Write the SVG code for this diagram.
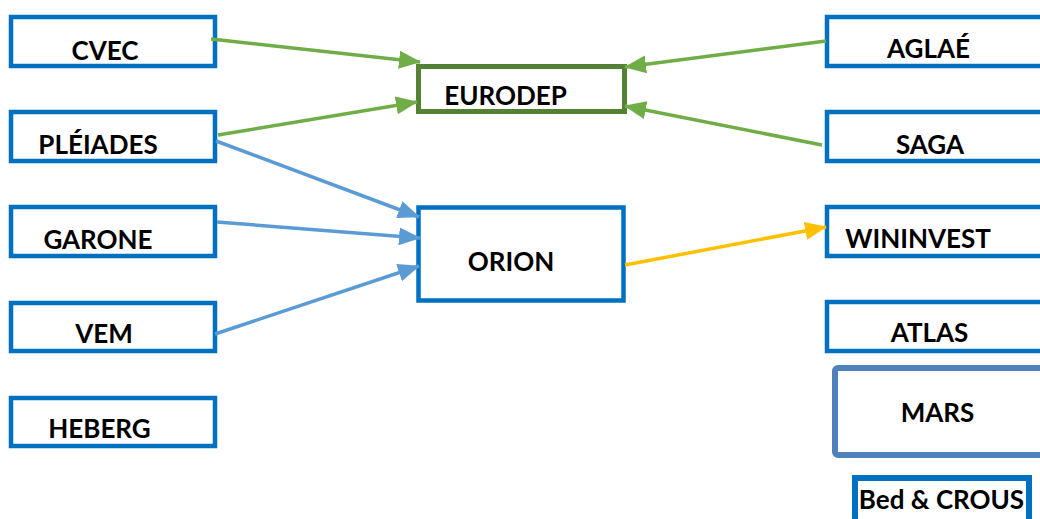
<svg xmlns="http://www.w3.org/2000/svg" width="1040" height="519" viewBox="0 0 1040 519">
  <style>
    .box { fill: #ffffff; stroke: #0070C0; stroke-width: 4.5; }
    .lbl { font-family: Lato, "Liberation Sans", Arial, sans-serif; font-weight: bold; font-size: 26px; fill: #000000; text-anchor: middle; }
    .g { stroke: #70AD47; stroke-width: 3.5; fill: none; marker-end: url(#ag); }
    .b { stroke: #5B9BD5; stroke-width: 3.5; fill: none; marker-end: url(#ab); }
    .y { stroke: #FFC000; stroke-width: 3.5; fill: none; marker-end: url(#ay); }
  </style>
  <defs>
    <marker id="ag" markerUnits="userSpaceOnUse" markerWidth="22" markerHeight="18" refX="21" refY="9" orient="auto">
      <path d="M0,0 L22,9 L0,18 z" fill="#70AD47"/>
    </marker>
    <marker id="ab" markerUnits="userSpaceOnUse" markerWidth="22" markerHeight="18" refX="21" refY="9" orient="auto">
      <path d="M0,0 L22,9 L0,18 z" fill="#5B9BD5"/>
    </marker>
    <marker id="ay" markerUnits="userSpaceOnUse" markerWidth="22" markerHeight="18" refX="21" refY="9" orient="auto">
      <path d="M0,0 L22,9 L0,18 z" fill="#FFC000"/>
    </marker>
  </defs>
  <rect width="1040" height="519" fill="#ffffff"/>

  <g id="cvec"><rect class="box" x="11" y="17" width="204" height="49"/><text class="lbl" x="105" y="60">CVEC</text></g>
  <g id="pleiades"><rect class="box" x="11" y="112" width="204" height="49"/><text class="lbl" x="98" y="154">PLÉIADES</text></g>
  <g id="garone"><rect class="box" x="11" y="207" width="204" height="49"/><text class="lbl" x="98" y="249">GARONE</text></g>
  <g id="vem"><rect class="box" x="11" y="303" width="204" height="48"/><text class="lbl" x="104" y="343">VEM</text></g>
  <g id="heberg"><rect class="box" x="11" y="398" width="204" height="48"/><text class="lbl" x="99.5" y="438">HEBERG</text></g>

  <g id="eurodep"><rect x="418.5" y="66.5" width="206" height="45" fill="#ffffff" stroke="#548235" stroke-width="5"/><text class="lbl" x="505.5" y="105">EURODEP</text></g>
  <g id="orion"><rect class="box" x="418.5" y="207.5" width="205" height="93" stroke-width="5"/><text class="lbl" x="511" y="271">ORION</text></g>

  <g id="aglae"><rect class="box" x="827" y="17" width="220" height="49"/><text class="lbl" x="928.5" y="58">AGLAÉ</text></g>
  <g id="saga"><rect class="box" x="827" y="112" width="220" height="49"/><text class="lbl" x="930" y="154">SAGA</text></g>
  <g id="wininvest"><rect class="box" x="827" y="207" width="220" height="49"/><text class="lbl" x="918" y="248">WININVEST</text></g>
  <g id="atlas"><rect class="box" x="827" y="302" width="220" height="49"/><text class="lbl" x="929.5" y="342">ATLAS</text></g>
  <g id="mars"><rect x="835" y="368" width="220" height="87" rx="3" fill="#ffffff" stroke="#4F81BD" stroke-width="6"/><text class="lbl" x="937.5" y="422">MARS</text></g>
  <g id="bedcrous"><rect x="855" y="478" width="174" height="60" fill="#ffffff" stroke="#0070C0" stroke-width="6"/><text class="lbl" x="941.5" y="509">Bed &amp; CROUS</text></g>

  <g id="connectors">
    <line class="g" x1="211" y1="39" x2="420" y2="62"/>
    <line class="g" x1="218" y1="135" x2="417" y2="102"/>
    <line class="g" x1="826" y1="41" x2="625" y2="67"/>
    <line class="g" x1="822" y1="145" x2="625" y2="106"/>
    <line class="b" x1="216" y1="141" x2="419" y2="217"/>
    <line class="b" x1="217" y1="222" x2="420" y2="238"/>
    <line class="b" x1="215" y1="334" x2="419" y2="266"/>
    <line class="y" x1="625" y1="265" x2="826" y2="227"/>
  </g>
</svg>
